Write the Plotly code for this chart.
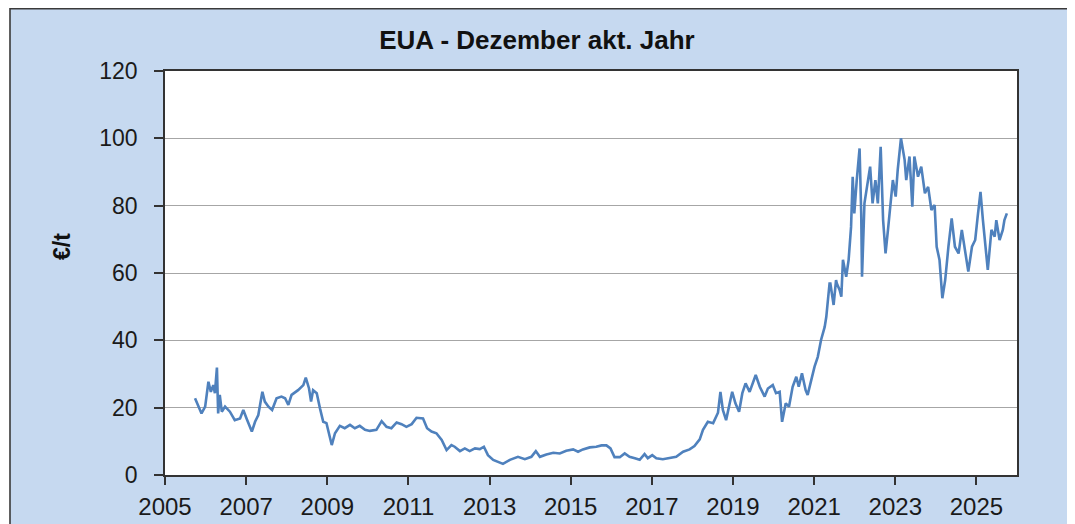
import plotly.graph_objects as go

# Decimal years and EUA December price (EUR/t)
years = [
    2005.74, 2005.82, 2005.90, 2005.99, 2006.07, 2006.13, 2006.19, 2006.23, 2006.28, 2006.31,
    2006.35, 2006.40, 2006.48, 2006.60, 2006.72, 2006.85, 2006.93, 2007.01, 2007.14, 2007.22,
    2007.30, 2007.40, 2007.46, 2007.55, 2007.64, 2007.75, 2007.87, 2007.96, 2008.04, 2008.12,
    2008.28, 2008.41, 2008.47, 2008.55, 2008.60, 2008.65, 2008.74, 2008.82, 2008.90, 2008.98,
    2009.11, 2009.19, 2009.31, 2009.43, 2009.56, 2009.68, 2009.80, 2009.93, 2010.05, 2010.21,
    2010.34, 2010.46, 2010.58, 2010.71, 2010.83, 2010.95, 2011.08, 2011.20, 2011.36, 2011.46,
    2011.57, 2011.69, 2011.82, 2011.94, 2012.06, 2012.14, 2012.27, 2012.39, 2012.51, 2012.64,
    2012.76, 2012.86, 2012.96, 2013.09, 2013.21, 2013.33, 2013.50, 2013.70, 2013.87, 2014.03,
    2014.14, 2014.24, 2014.40, 2014.57, 2014.73, 2014.89, 2015.06, 2015.18, 2015.30, 2015.47,
    2015.63, 2015.76, 2015.88, 2015.98, 2016.08, 2016.21, 2016.33, 2016.45, 2016.58, 2016.70,
    2016.82, 2016.90, 2017.01, 2017.11, 2017.27, 2017.44, 2017.60, 2017.77, 2017.93, 2018.05,
    2018.18, 2018.26, 2018.38, 2018.51, 2018.63, 2018.69, 2018.75, 2018.83, 2018.90, 2018.98,
    2019.06, 2019.15, 2019.23, 2019.31, 2019.41, 2019.49, 2019.56, 2019.66, 2019.78, 2019.86,
    2019.98, 2020.06, 2020.15, 2020.21, 2020.30, 2020.38, 2020.47, 2020.56, 2020.62, 2020.70,
    2020.79, 2020.84, 2020.93, 2021.01, 2021.09, 2021.17, 2021.26, 2021.30, 2021.34, 2021.38,
    2021.40, 2021.46, 2021.48, 2021.54, 2021.56, 2021.63, 2021.67, 2021.71, 2021.79, 2021.85,
    2021.91, 2021.95, 2021.99, 2022.05, 2022.12, 2022.16, 2022.18, 2022.24, 2022.32, 2022.38,
    2022.44, 2022.51, 2022.57, 2022.64, 2022.70, 2022.76, 2022.82, 2022.88, 2022.94, 2023.01,
    2023.06, 2023.14, 2023.23, 2023.27, 2023.35, 2023.42, 2023.47, 2023.56, 2023.64, 2023.73,
    2023.81, 2023.89, 2023.97, 2024.02, 2024.09, 2024.16, 2024.23, 2024.31, 2024.39, 2024.47,
    2024.56, 2024.64, 2024.72, 2024.80, 2024.89, 2024.97, 2025.03, 2025.10, 2025.16, 2025.22,
    2025.28, 2025.37, 2025.45, 2025.49, 2025.57, 2025.65, 2025.69, 2025.75,
]
prices = [
    22.8, 20.8, 18.3, 20.3, 27.7, 24.7, 26.7, 24.3, 31.9, 18.3,
    23.8, 18.8, 20.3, 18.8, 16.3, 16.8, 19.3, 16.8, 12.9, 15.8,
    17.8, 24.7, 21.8, 20.3, 19.3, 22.8, 23.3, 22.8, 20.8, 23.8,
    25.2, 26.7, 28.9, 25.7, 21.8, 25.2, 24.3, 19.8, 15.8, 15.4,
    8.9, 12.4, 14.6, 13.9, 14.9, 13.9, 14.6, 13.4, 13.1, 13.4,
    16.0, 14.3, 13.9, 15.6, 15.1, 14.3, 15.1, 17.0, 16.8, 13.9,
    12.9, 12.4, 10.4, 7.4, 8.9, 8.4, 7.1, 7.9, 7.1, 7.9,
    7.7, 8.4, 5.9, 4.5, 4.0, 3.3, 4.5, 5.4, 4.7, 5.4,
    7.1, 5.4, 6.1, 6.6, 6.4, 7.2, 7.6, 6.9, 7.6, 8.2,
    8.4, 8.8, 8.8, 7.9, 5.3, 5.3, 6.4, 5.4, 5.0, 4.5,
    6.2, 5.0, 5.9, 5.0, 4.7, 5.0, 5.4, 6.9, 7.6, 8.6,
    10.6, 13.4, 15.8, 15.4, 18.5, 24.7, 19.3, 16.3, 20.3, 24.7,
    21.3, 18.8, 24.3, 27.2, 24.7, 27.2, 29.7, 26.2, 23.3, 25.7,
    26.7, 24.3, 24.7, 15.8, 21.3, 20.3, 26.2, 29.2, 26.2, 30.2,
    25.2, 23.8, 28.2, 32.2, 35.1, 40.1, 44.0, 47.0, 52.0, 56.9,
    56.9, 52.0, 50.5, 57.9, 56.9, 54.9, 53.0, 63.9, 58.9, 63.9,
    73.7, 88.6, 77.7, 87.6, 97.0, 77.7, 58.9, 80.7, 87.6, 91.6,
    80.7, 87.6, 80.7, 97.5, 75.7, 65.8, 72.8, 80.7, 87.6, 82.7,
    90.6, 100.0, 93.6, 87.6, 94.6, 79.7, 94.6, 88.6, 91.6, 83.7,
    85.6, 78.7, 80.2, 67.8, 63.9, 52.5, 57.9, 67.8, 76.2, 67.8,
    65.8, 72.8, 65.8, 60.4, 67.8, 69.8, 76.7, 84.1, 75.7, 67.8,
    60.9, 72.8, 70.8, 75.7, 69.8, 72.8, 75.7, 77.7,
]

tick_years = [2005, 2007, 2009, 2011, 2013, 2015, 2017, 2019, 2021, 2023, 2025]
y_ticks = [0, 20, 40, 60, 80, 100, 120]

title_text = "EUA - Dezember akt. Jahr"
y_title = "€/t"

# The page body adds an 8px margin, so the figure is drawn 8px in from the top-left.
OFF = 8
W, H = 1075 - OFF, 524 - OFF
L, T = 165 - OFF, 71 - OFF
R = W - (1017 - OFF)
B = H - (475 - OFF)
pw, ph = W - L - R, H - T - B

def px_x(x_abs):
    return (x_abs - OFF - L) / pw

def px_y(y_abs):
    return 1 - (y_abs - OFF - T) / ph

FONT = "Liberation Sans, Arial, sans-serif"
BLUE_BG = "#C6D9F0"
AXIS = "#333333"

fig = go.Figure()
fig.add_trace(go.Scatter(
    x=years, y=prices, mode="lines",
    line=dict(color="#4F81BD", width=2.6),
    hoverinfo="skip", showlegend=False,
))

fig.update_layout(
    width=W, height=H,
    margin=dict(l=L, r=R, t=T, b=B, autoexpand=False),
    paper_bgcolor=BLUE_BG,
    plot_bgcolor="white",
    showlegend=False,
    font=dict(family=FONT, color="#1a1a1a"),
    title=dict(
        text=f"<b>{title_text}</b>", x=(537 - OFF) / W, xref="container", xanchor="center",
        y=1 - (40 - OFF) / H, yref="container", yanchor="middle",
        font=dict(size=26, family=FONT, color="#111111"),
    ),
    xaxis=dict(
        range=[2005, 2026], tickmode="array", tickvals=tick_years,
        ticktext=[str(t) for t in tick_years],
        showgrid=False, zeroline=False,
        showline=True, linecolor=AXIS, linewidth=1.6, mirror=True,
        ticks="outside", ticklen=8, tickwidth=1.6, tickcolor=AXIS,
        tickfont=dict(size=24, family=FONT, color="#1a1a1a"),
        ticklabelstandoff=1,
    ),
    yaxis=dict(
        range=[0, 120], tickmode="array", tickvals=y_ticks,
        showgrid=True, gridcolor="#A6A6A6", gridwidth=1.3, zeroline=False,
        showline=True, linecolor=AXIS, linewidth=1.6, mirror=True,
        ticks="outside", ticklen=9, tickwidth=1.6, tickcolor=AXIS,
        tickfont=dict(size=23, family=FONT, color="#1a1a1a"),
        ticklabelstandoff=12,
    ),
    annotations=[dict(
        text=f"<b>{y_title}</b>", xref="paper", yref="paper",
        x=px_x(62), y=px_y(247), textangle=-90, showarrow=False,
        xanchor="center", yanchor="middle",
        font=dict(size=23, family=FONT, color="#111111"),
    )],
    shapes=[
        # thin white strip left of the blue frame
        dict(type="rect", xref="paper", yref="paper", layer="above",
             x0=px_x(0), x1=px_x(10), y0=px_y(530), y1=px_y(0),
             fillcolor="white", line=dict(width=0)),
        # frame border of the blue box
        dict(type="rect", xref="paper", yref="paper", layer="above",
             x0=px_x(10), x1=px_x(1080), y0=px_y(530), y1=px_y(8.8),
             fillcolor="rgba(0,0,0,0)", line=dict(color="#3a3a3a", width=1.6)),
    ],
)

fig.write_html("out.html")
